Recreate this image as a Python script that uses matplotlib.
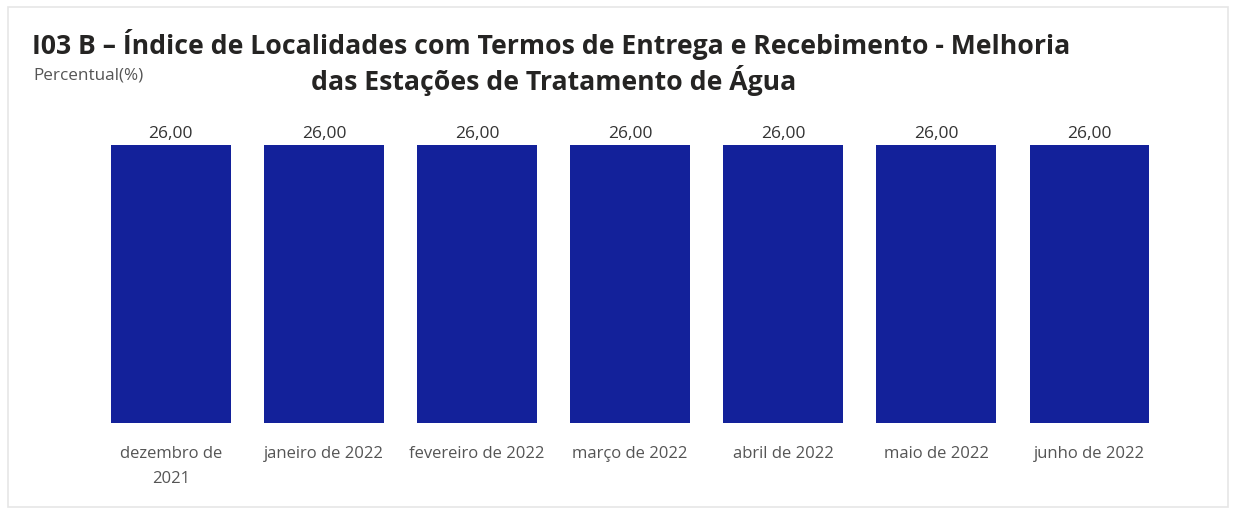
import matplotlib.pyplot as plt
from matplotlib.patches import Rectangle

# Data
months = ["dezembro de\n2021", "janeiro de 2022", "fevereiro de 2022", "março de 2022",
          "abril de 2022", "maio de 2022", "junho de 2022"]
values = [26.0, 26.0, 26.0, 26.0, 26.0, 26.0, 26.0]

title_1 = "I03 B – Índice de Localidades com Termos de Entrega e Recebimento - Melhoria"
title_2 = "das Estações de Tratamento de Água"

plt.rcParams['font.family'] = ['Open Sans', 'DejaVu Sans']

fig = plt.figure(figsize=(12.36, 5.10), dpi=100)
W, H = 1236, 510

# card border
fig.patches.append(Rectangle((8 / W, 2 / H), 1220 / W, 500 / H, transform=fig.transFigure,
                             facecolor='none', edgecolor='#e6e6e6', linewidth=1.2, zorder=-1))

ax = fig.add_axes([94.3 / W, (H - 424) / H, (1166 - 94.3) / W, (424 - 146) / H])
x = range(len(months))
bars = ax.bar(x, values, width=0.783, color='#13219a')
ax.set_xlim(-0.5, len(months) - 0.5)
ax.set_ylim(0, 26)
ax.patch.set_alpha(0)

for i, v in enumerate(values):
    ax.text(i, v + 0.35, f"{v:.2f}".replace('.', ','), ha='center', va='bottom',
            fontsize=12.5, color='#333333', clip_on=False)

ax.set_xticks(list(x))
ax.set_xticklabels(months, fontsize=12, color='#555555', linespacing=1.75)
ax.tick_params(axis='x', length=0, pad=16)
ax.set_yticks([])
for s in ax.spines.values():
    s.set_visible(False)

fig.text(551 / W, 1 - 45 / H, title_1, ha='center', va='center', fontsize=19.2,
         fontweight='bold', color='#252423')
fig.text(554 / W, 1 - 80 / H, title_2, ha='center', va='center', fontsize=19.2,
         fontweight='bold', color='#252423')
fig.text(33 / W, 1 - 76 / H, "Percentual(%)", ha='left', va='center', fontsize=12.3,
         color='#555555')

fig.savefig('out.png', dpi=100)
